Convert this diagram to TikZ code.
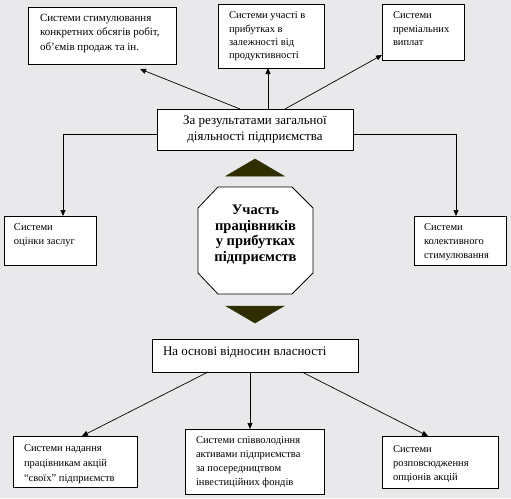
\documentclass[tikz,border=0pt]{standalone}
\usepackage{fontspec}
\setmainfont{Liberation Serif}
\usetikzlibrary{arrows.meta}
\definecolor{bgc}{RGB}{233,233,235}
\definecolor{olivedk}{RGB}{46,46,0}
\tikzset{
  box/.style={draw=black, line width=0.8pt, fill=white, inner sep=0pt, outer sep=0pt},
  small/.style={font=\fontsize{10.5}{14.5}\selectfont},
  big/.style={font=\fontsize{13}{16}\selectfont},
  arr/.style={draw=black, line width=0.7pt, -{Triangle[length=6pt,width=5pt]}},
  tri/.style={fill=olivedk, draw=olivedk, line width=0.5pt},
}
\newcommand\mybox[9][]{%
  \pgfmathsetmacro\bw{#5-#3}\pgfmathsetmacro\bh{#6-#4}%
  \pgfmathsetmacro\cx{(#3+#5)/2}\pgfmathsetmacro\cy{(#4+#6)/2}%
  \pgfmathsetmacro\iw{\bw-#7-2}\pgfmathsetmacro\ih{\bh-#8}%
  \node[box,#1,minimum width=\bw pt,minimum height=\bh pt] (#2) at (\cx,\cy)
    {\hspace*{#7pt}\parbox[b][\bh pt][t]{\iw pt}{\vspace*{#8pt}\raggedright #9}};%
}
\begin{document}
\begin{tikzpicture}[x=1pt,y=-1pt]
\fill[bgc] (0,0) rectangle (511,498);
\useasboundingbox (0,0) rectangle (511,498);

% top boxes
\mybox[small,font=\fontsize{11}{14.5}\selectfont]{tl}{28}{7}{176}{64}{11}{7}{Системи стимулювання\\конкретних обсягів робіт,\\об’ємів продаж та ін.}
\mybox[small,font=\fontsize{10.5}{13.2}\selectfont]{tm}{218}{4}{324}{68}{10}{8}{Системи участі в\\прибутках в\\залежності від\\продуктивності}
\mybox[small,font=\fontsize{10.5}{13.5}\selectfont]{tr}{382}{4}{464}{60}{10}{8}{Системи\\преміальних\\виплат}

% main top box
\node[box,big,align=center,minimum width=196pt,minimum height=41pt] (mainT) at (255,129.5)
  {За результатами загальної\\діяльності підприємства};

% side boxes
\mybox[small,font=\fontsize{10.5}{14}\selectfont]{lb}{4}{216}{96}{265}{9}{8}{Системи\\оцінки заслуг}
\mybox[small,font=\fontsize{10.5}{14}\selectfont]{rb}{414}{216}{506}{265}{9}{8}{Системи\\колективного\\стимулювання}

% triangles
\path[tri] (226,176) -- (284,176) -- (255,159) -- cycle;
\path[tri] (226,306) -- (284,306) -- (255,323) -- cycle;

% octagon
\draw[line width=0.8pt, fill=white] (218,187) -- (292,187) -- (313,208) -- (313,273)
  -- (292,294) -- (218,294) -- (198,273) -- (198,208) -- cycle;
\node[align=center, font=\fontsize{14.5}{15.5}\selectfont\bfseries, inner sep=0pt] (part) at (255.5,235)
  {Участь\\працівників\\у прибутках\\підприємств};

% bottom main box
\mybox[big]{onb}{152}{339}{358}{372}{10}{8}{На основі відносин власності}

% bottom boxes
\mybox[small,font=\fontsize{10.5}{15}\selectfont]{bl}{13}{436}{137}{487}{10}{9}{Системи надання\\працівникам акцій\\“своїх” підприємств}
\mybox[small,font=\fontsize{10.5}{14}\selectfont]{bm}{185}{429}{324}{494}{10}{8}{Системи співволодіння\\активами підприємства\\за посередництвом\\інвестиційних фондів}
\mybox[small,font=\fontsize{10.5}{14}\selectfont]{br}{382}{436}{498}{488}{10}{10}{Системи\\розповсюдження\\опціонів акцій}

% connectors top
\draw[arr] ([xshift=83pt]mainT.north west) -- ([xshift=-36pt,yshift=-5pt]tl.south east);
\draw[arr] ([xshift=111pt]mainT.north west) -- ([xshift=50pt]tm.south west);
\draw[arr] ([xshift=128pt]mainT.north west) -- ([yshift=5pt]tr.south west);
% side connectors
\draw[arr] ([yshift=-4.5pt]mainT.west) -| ([xshift=59pt]lb.north west);
\draw[arr] ([yshift=-4.5pt]mainT.east) -| ([xshift=42pt]rb.north west);
% bottom connectors
\draw[arr] ([xshift=56pt]onb.south west) -- ([xshift=69pt]bl.north west);
\draw[arr] ([xshift=98pt]onb.south west) -- ([xshift=65pt]bm.north west);
\draw[arr] ([xshift=150pt]onb.south west) -- ([xshift=46pt]br.north west);
\end{tikzpicture}
\end{document}
